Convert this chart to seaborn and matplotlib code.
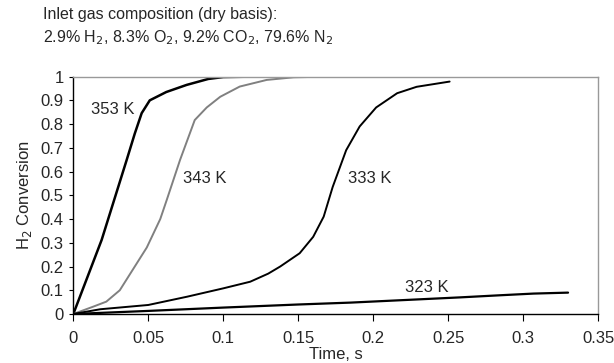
import pandas as pd
import seaborn as sns
import matplotlib.pyplot as plt
import matplotlib
matplotlib.use('Agg')

# curves: time (s) vs H2 conversion
t_353 = [0, 0.0189, 0.0356, 0.041, 0.0456, 0.051, 0.062, 0.0756, 0.09, 0.1, 0.12, 0.15, 0.183]
x_353 = [0, 0.312, 0.649, 0.76, 0.846, 0.90, 0.935, 0.965, 0.99, 0.998, 1.0, 1.0, 1.0]

t_343 = [0, 0.0133, 0.022, 0.031, 0.04, 0.049, 0.058, 0.0623, 0.0712, 0.081, 0.089, 0.098,
         0.111, 0.129, 0.147, 0.17, 0.205]
x_343 = [0, 0.031, 0.052, 0.10, 0.19, 0.28, 0.40, 0.48, 0.649, 0.817, 0.87, 0.915,
         0.958, 0.986, 0.997, 1.0, 1.0]

t_333 = [0, 0.018, 0.05, 0.076, 0.1, 0.118, 0.13, 0.138, 0.151, 0.16, 0.167, 0.173,
         0.182, 0.191, 0.202, 0.216, 0.229, 0.24, 0.251]
x_333 = [0, 0.02, 0.038, 0.073, 0.108, 0.136, 0.17, 0.2, 0.256, 0.325, 0.41, 0.535,
         0.69, 0.79, 0.87, 0.93, 0.957, 0.968, 0.979]

t_323 = [0, 0.05, 0.1, 0.15, 0.185, 0.225, 0.258, 0.285, 0.307, 0.33]
x_323 = [0, 0.013, 0.027, 0.04, 0.048, 0.06, 0.07, 0.079, 0.086, 0.09]

labels = ["353 K", "343 K", "333 K", "323 K"]
label_pos = [(0.026, 0.86), (0.088, 0.57), (0.198, 0.57), (0.236, 0.11)]

sns.set_style("white")
plt.rcParams['font.family'] = ['Liberation Sans', 'DejaVu Sans']

fig = plt.figure(figsize=(6.14, 3.63), dpi=100)
ax = fig.add_axes([0.1194, 0.135, 0.8546, 0.654])

sns.lineplot(x=t_353, y=x_353, ax=ax, color="black", linewidth=1.8, sort=False)
sns.lineplot(x=t_343, y=x_343, ax=ax, color="#808080", linewidth=1.4, sort=False)
sns.lineplot(x=t_333, y=x_333, ax=ax, color="black", linewidth=1.4, sort=False)
sns.lineplot(x=t_323, y=x_323, ax=ax, color="black", linewidth=1.6, sort=False)

for lab, (tx, ty) in zip(labels, label_pos):
    ax.text(tx, ty, lab, ha="center", va="center", fontsize=12)

ax.set_xlim(0, 0.35)
ax.set_ylim(0, 1)
ax.set_xticks([0, 0.05, 0.1, 0.15, 0.2, 0.25, 0.3, 0.35])
ax.set_xticklabels(["0", "0.05", "0.1", "0.15", "0.2", "0.25", "0.3", "0.35"])
ax.set_yticks([i / 10 for i in range(11)])
ax.set_yticklabels(["0"] + ["0.%d" % i for i in range(1, 10)] + ["1"])
ax.tick_params(axis="x", labelsize=12, length=5, width=0.8, color="black",
               direction="out", bottom=True, pad=7)
ax.tick_params(axis="y", labelsize=12, length=3, width=0.8, color="black",
               direction="out", left=True, pad=4)
for side in ["left", "bottom"]:
    ax.spines[side].set_color("black")
    ax.spines[side].set_linewidth(1.0)
for side in ["top", "right"]:
    ax.spines[side].set_color("#999999")
    ax.spines[side].set_linewidth(1.0)

ax.set_xlabel("Time, s", fontsize=12, labelpad=1)
ax.set_ylabel("H$_2$ Conversion", fontsize=12, labelpad=5)

fig.text(0.07, 0.96, "Inlet gas composition (dry basis):", fontsize=11.5, va="center")
fig.text(0.07, 0.895, "2.9% H$_2$, 8.3% O$_2$, 9.2% CO$_2$, 79.6% N$_2$", fontsize=11.5, va="center")

plt.savefig("out.png", dpi=100)
